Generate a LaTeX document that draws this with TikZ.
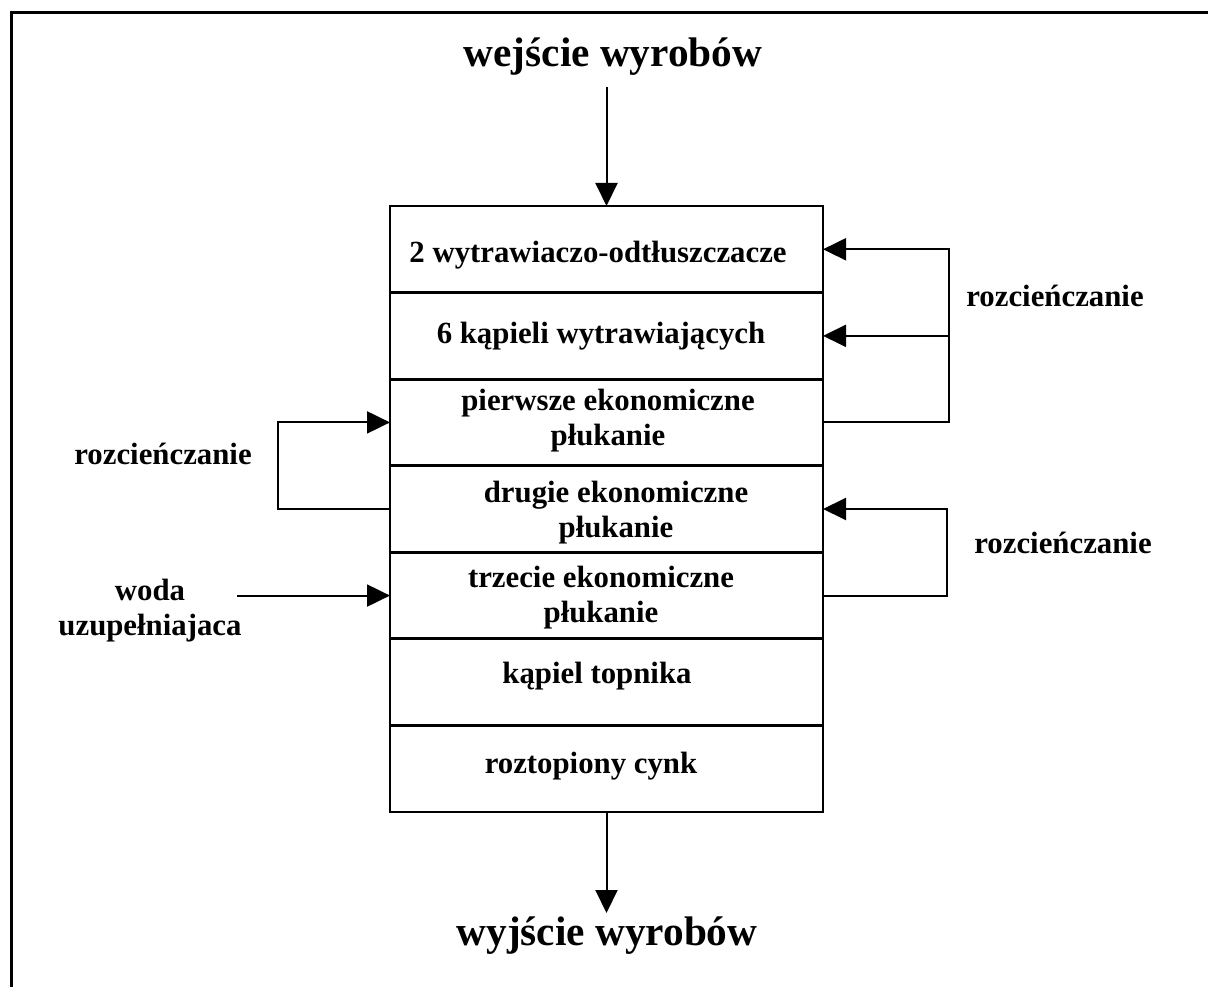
\documentclass[tikz,border=0pt]{standalone}
\usepackage{fontspec}
\setmainfont{Liberation Serif}
\usetikzlibrary{arrows.meta}
\begin{document}
\begin{tikzpicture}[x=1pt,y=-1pt,
  stage/.style={draw, line width=1.8pt, minimum width=433pt, minimum height=86.57pt,
                inner sep=0pt, outer sep=0pt},
  lbl/.style={font=\bfseries\fontsize{30.8}{35}\selectfont, align=center, inner sep=0pt, anchor=base},
  title/.style={font=\bfseries\fontsize{41.3}{45}\selectfont, inner sep=0pt, anchor=base},
  flow/.style={line width=2pt, -{Triangle[length=23pt,width=22pt]}},
  divider/.style={line width=3.2pt},
  frame/.style={line width=3pt},
]
\useasboundingbox (0,0) rectangle (1208,987);

% open frame: top and left edges
\draw[frame] (11,987) -- (11,13) -- (1208,13);

% the stack of process stages
\foreach \i in {1,...,7}{
  \node[stage] (r\i) at (606.5,{206+86.57*(\i-0.5)}) {};
}
\foreach \i in {1,...,6}{
  \draw[divider] (r\i.south west) -- (r\i.south east);
}

% stage labels (base anchor sits on the last line)
\node[lbl] (t1) at (598,262) {2 wytrawiaczo-odtłuszczacze};
\node[lbl] (t2) at (601,343) {6 kąpieli wytrawiających};
\node[lbl] (t3) at (608,445) {pierwsze ekonomiczne\\płukanie};
\node[lbl] (t4) at (616,537) {drugie ekonomiczne\\płukanie};
\node[lbl] (t5) at (601,622) {trzecie ekonomiczne\\płukanie};
\node[lbl] (t6) at (597,683) {kąpiel topnika};
\node[lbl] (t7) at (591,773) {roztopiony cynk};

% input and output of the line
\node[title] (tin) at (613,67) {wejście wyrobów};
\node[title] (tout) at (607,945) {wyjście wyrobów};
\coordinate (in0) at (606.5,87);
\coordinate (out0) at (606.5,913);
\draw[flow] (in0) -- (r1.north);
\draw[flow] (r7.south) -- (out0);

% dilution loop on the right, upper
\draw[flow] (r3.east) -- ++(126,0) coordinate (ru) |- (r1.east);
\draw[flow] (ru |- r2.east) -- (r2.east);
\node[lbl] (d1) at (1055,306) {rozcieńczanie};

% dilution loop on the right, lower
\draw[flow] (r5.east) -- ++(124,0) |- (r4.east);
\node[lbl] (d2) at (1063,553) {rozcieńczanie};

% dilution loop on the left
\draw[flow] (r4.west) -- ++(-112,0) |- (r3.west);
\node[lbl] (d3) at (163,464) {rozcieńczanie};

% make-up water
\path (r5.west) ++(-153,0) coordinate (w0);
\draw[flow] (w0) -- (r5.west);
\node[lbl] (woda) at (150,635) {woda\\uzupełniajaca};
\end{tikzpicture}
\end{document}
